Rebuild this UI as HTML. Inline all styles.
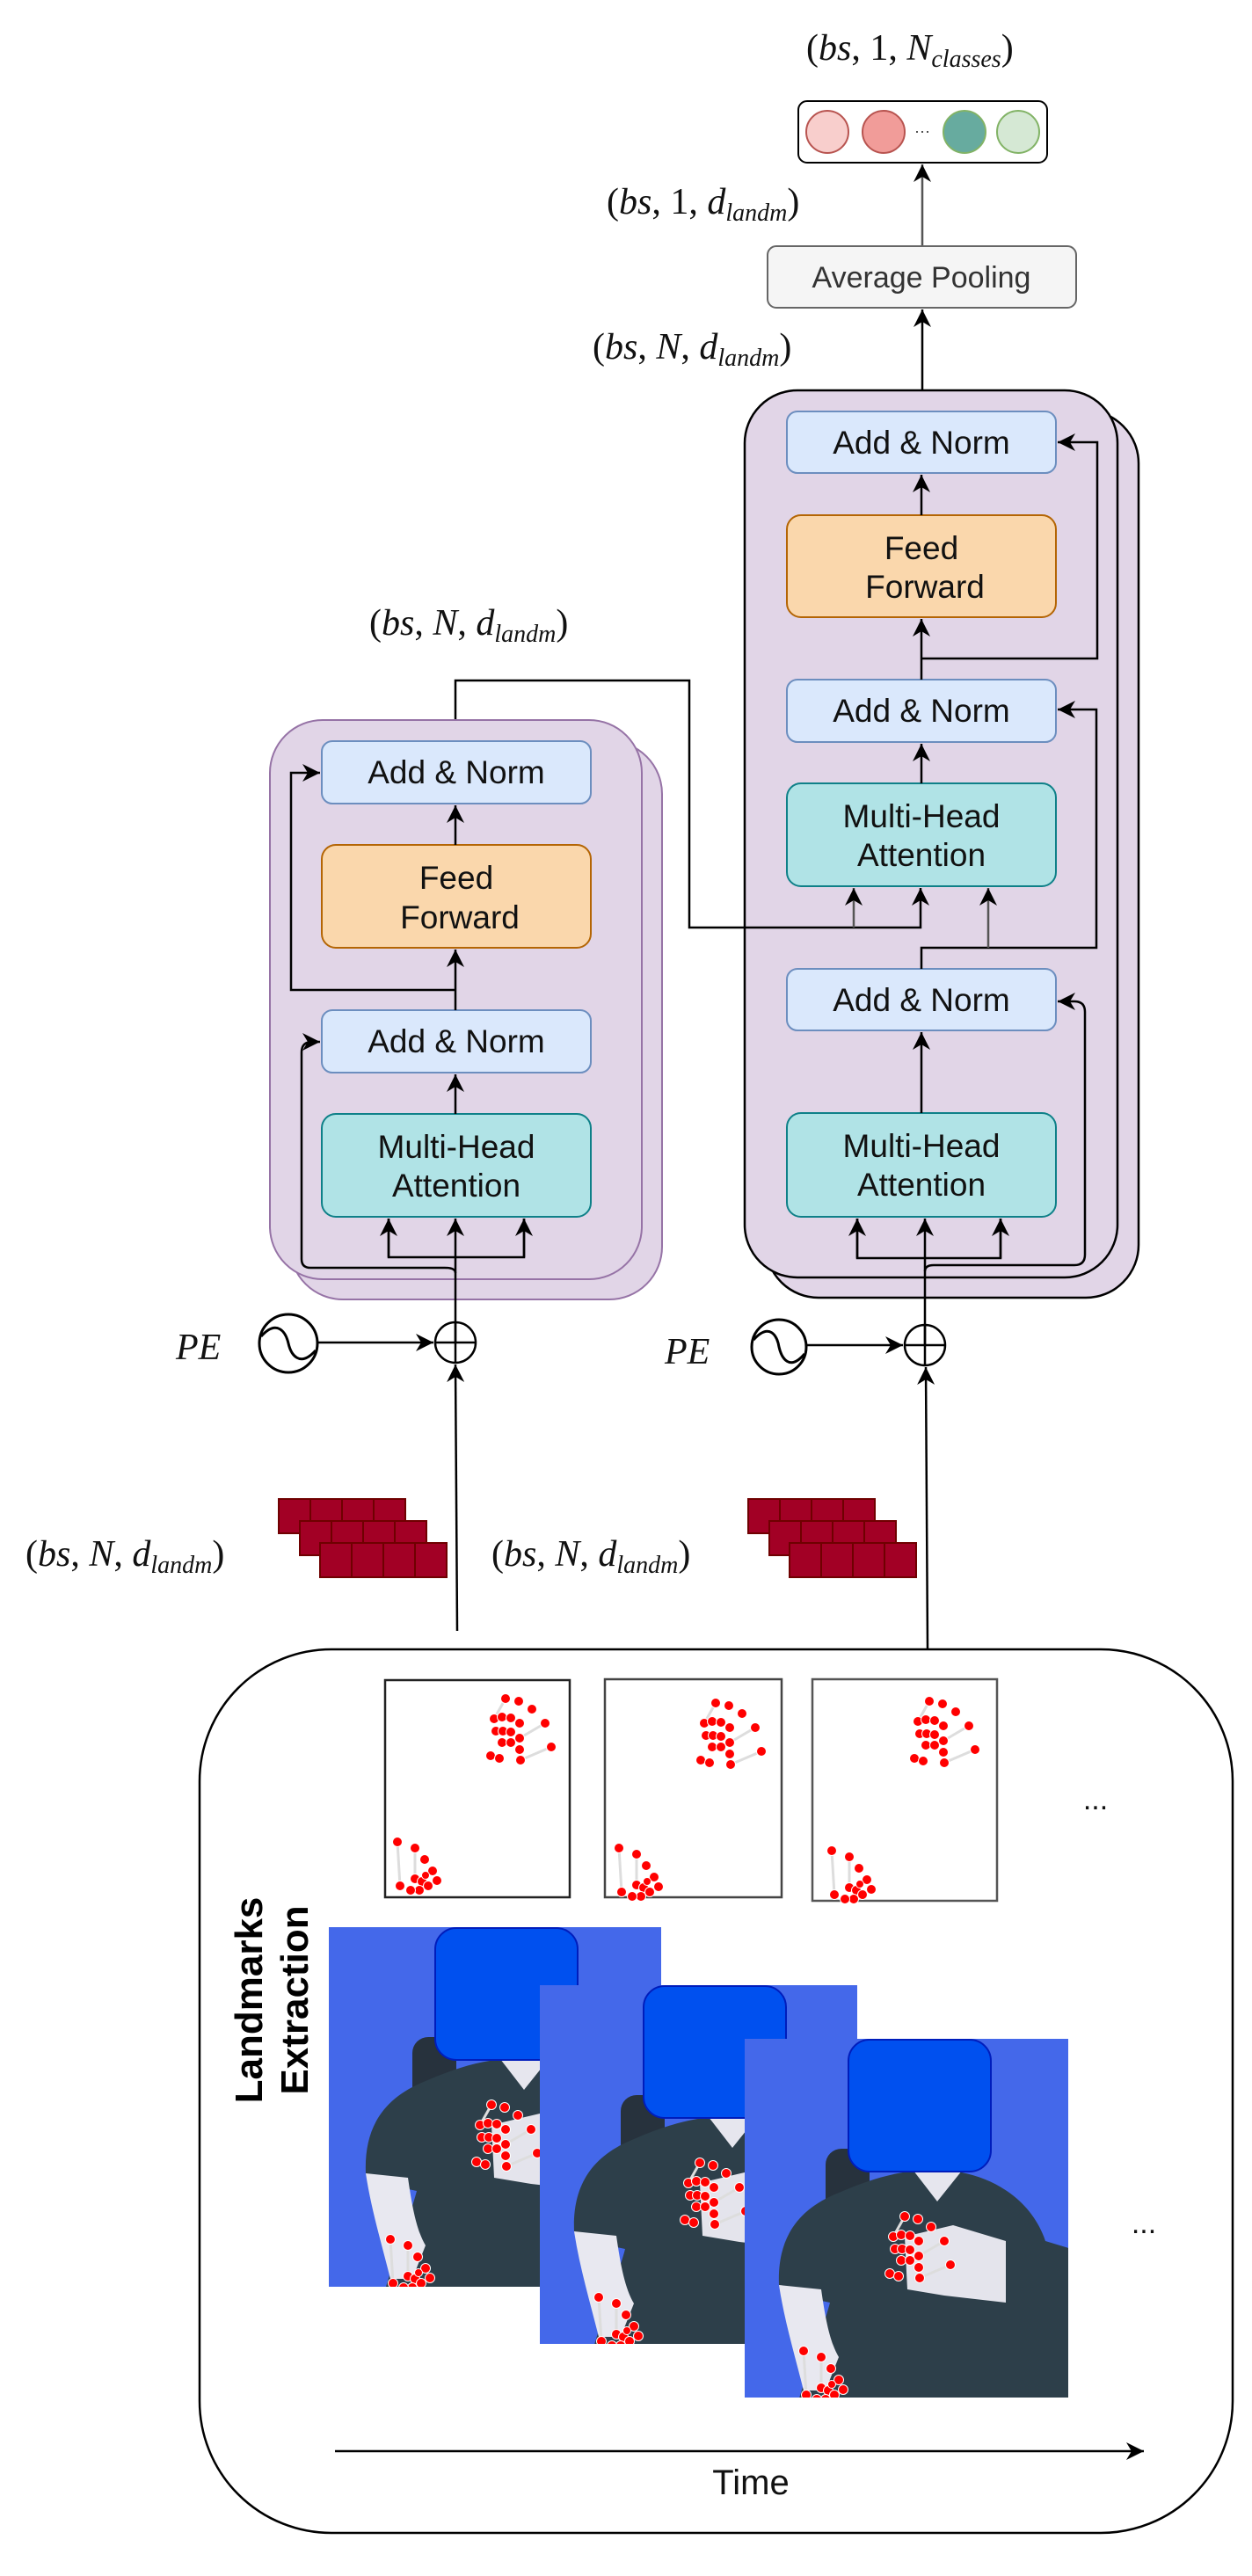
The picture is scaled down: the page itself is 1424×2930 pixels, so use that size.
<!DOCTYPE html>
<html><head><meta charset="utf-8"><style>
html,body{margin:0;padding:0;background:#fff}
svg{display:block}
.blk{font-family:"Liberation Sans",Arial,sans-serif;font-size:37px;fill:#111;text-anchor:middle}
.m{font-family:"Liberation Serif",serif;font-size:42px;fill:#111}
</style></head><body>
<svg width="1424" height="2930" viewBox="0 0 1424 2930" xmlns="http://www.w3.org/2000/svg">
<defs>
<marker id="a" viewBox="0 0 10 10" refX="10" refY="5" markerWidth="20" markerHeight="20" markerUnits="userSpaceOnUse" orient="auto">
<path d="M0,0 L10,5 L0,10 L3,5 z" fill="#000"/></marker>
<g id="cA">
<path d="M69,55 L34,70 M62,28 L33,45 M17,0 L4,23" stroke="#ddd" stroke-width="3" fill="none"/>
<g fill="#f00" stroke="#fff" stroke-width="1">
<circle cx="17" cy="0" r="5.5"/><circle cx="32" cy="3" r="5.5"/><circle cx="47" cy="12" r="5.5"/><circle cx="62" cy="28" r="5.5"/><circle cx="69" cy="55" r="5.5"/>
<circle cx="4" cy="23" r="5.5"/><circle cx="13" cy="21" r="5.5"/><circle cx="23" cy="22" r="5.5"/><circle cx="33" cy="28" r="5.5"/>
<circle cx="6" cy="37" r="5.5"/><circle cx="14" cy="37" r="5.5"/><circle cx="23" cy="38" r="5.5"/><circle cx="33" cy="45" r="5.5"/>
<circle cx="13" cy="50" r="5.5"/><circle cx="23" cy="50" r="5.5"/><circle cx="33" cy="58" r="5.5"/>
<circle cx="0" cy="65" r="5.5"/><circle cx="10" cy="68" r="5.5"/><circle cx="34" cy="70" r="5.5"/></g></g>
<g id="cB">
<path d="M0,0 L3,50 M20,7 L20,42" stroke="#ddd" stroke-width="3" fill="none"/>
<g fill="#f00" stroke="#fff" stroke-width="1">
<circle cx="0" cy="0" r="5.5"/><circle cx="20" cy="7" r="5.5"/><circle cx="31" cy="20" r="5.5"/><circle cx="40" cy="33" r="5.5"/><circle cx="45" cy="44" r="5.5"/>
<circle cx="20" cy="42" r="5.5"/><circle cx="28" cy="45" r="5.5"/><circle cx="35" cy="50" r="5.5"/><circle cx="25" cy="55" r="5.5"/><circle cx="3" cy="50" r="5.5"/><circle cx="15" cy="55" r="5.5"/><circle cx="32" cy="38" r="4.5"/></g></g>
<g id="person">
<rect x="0" y="0" width="378" height="409" fill="#4468ea"/>
<rect x="95" y="125" width="50" height="120" rx="18" fill="#27323d"/>
<path d="M42,280 C40,230 60,195 110,175 C140,162 170,152 200,150 L250,152 C290,160 330,185 345,230 L378,240 L378,409 L65,409 C80,360 95,320 100,300 L62,292 Z" fill="#2d3f4a"/>
<path d="M195,150 L250,150 L222,185 Z" fill="#e6e6ee"/>
<path d="M42,280 L90,285 C95,320 100,345 110,362 L95,400 L70,400 C60,360 48,320 42,280 Z" fill="#e8e8f0"/>
<path d="M185,225 L240,212 L300,230 L300,300 L230,292 L188,285 Z" fill="#e4e4ec"/>
<use href="#cA" x="168" y="202"/>
<use href="#cB" x="70" y="355"/>
<rect x="121" y="1" width="162" height="150" rx="24" fill="#0050ef" stroke="#001dbc" stroke-width="2"/>
</g>
<clipPath id="p1"><rect x="0" y="0" width="378" height="409"/></clipPath>
<clipPath id="p2"><rect x="0" y="0" width="361" height="408"/></clipPath>
<clipPath id="p3"><rect x="0" y="0" width="368" height="408"/></clipPath>
</defs>

<!-- output -->
<text class="m" x="917" y="68">(<tspan font-style="italic">bs</tspan>, 1, <tspan font-style="italic">N</tspan><tspan font-style="italic" font-size="28" dy="8">classes</tspan><tspan dy="-8">)</tspan></text>
<rect x="908" y="115" width="283" height="70" rx="10" fill="#fff" stroke="#000" stroke-width="2"/>
<circle cx="941" cy="150" r="24" fill="#f8cecc" stroke="#b85450" stroke-width="2"/>
<circle cx="1005" cy="150" r="24" fill="#f19c99" stroke="#b85450" stroke-width="2"/>
<text x="1049" y="155" font-family="Liberation Sans,sans-serif" font-size="18" text-anchor="middle" fill="#333">···</text>
<circle cx="1097" cy="150" r="24" fill="#67ab9f" stroke="#82b366" stroke-width="2"/>
<circle cx="1158" cy="150" r="24" fill="#d5e8d4" stroke="#82b366" stroke-width="2"/>
<line x1="1049" y1="280" x2="1049" y2="187" stroke="#555" stroke-width="2.5" marker-end="url(#a)"/>
<text class="m" x="690" y="243">(<tspan font-style="italic">bs</tspan>, 1, <tspan font-style="italic">d</tspan><tspan font-style="italic" font-size="28" dy="8">landm</tspan><tspan dy="-8">)</tspan></text>
<rect x="873" y="280" width="351" height="70" rx="10" fill="#f5f5f5" stroke="#666" stroke-width="2"/>
<text x="1048" y="327" font-family="Liberation Sans,sans-serif" font-size="34" text-anchor="middle" fill="#333">Average Pooling</text>
<text class="m" x="674" y="408">(<tspan font-style="italic">bs</tspan>, <tspan font-style="italic">N</tspan>, <tspan font-style="italic">d</tspan><tspan font-style="italic" font-size="28" dy="8">landm</tspan><tspan dy="-8">)</tspan></text>
<line x1="1049" y1="468" x2="1049" y2="352" stroke="#000" stroke-width="2.5" marker-end="url(#a)"/>

<!-- right encoder -->
<rect x="871" y="467" width="424" height="1009" rx="60" fill="#e1d5e7" stroke="#000" stroke-width="2.5"/>
<rect x="847" y="444" width="424" height="1009" rx="60" fill="#e1d5e7" stroke="#000" stroke-width="2.5"/>
<g stroke-width="2">
<rect x="895" y="468" width="306" height="70" rx="12" fill="#dae8fc" stroke="#6c8ebf"/>
<rect x="895" y="586" width="306" height="116" rx="16" fill="#fad7ac" stroke="#b46504"/>
<rect x="895" y="773" width="306" height="71" rx="12" fill="#dae8fc" stroke="#6c8ebf"/>
<rect x="895" y="891" width="306" height="117" rx="16" fill="#b0e3e6" stroke="#0e8088"/>
<rect x="895" y="1102" width="306" height="70" rx="12" fill="#dae8fc" stroke="#6c8ebf"/>
<rect x="895" y="1266" width="306" height="118" rx="16" fill="#b0e3e6" stroke="#0e8088"/>
</g>
<text class="blk" x="1048" y="516">Add &amp; Norm</text>
<text class="blk" x="1048" y="636">Feed</text><text class="blk" x="1052" y="680">Forward</text>
<text class="blk" x="1048" y="821">Add &amp; Norm</text>
<text class="blk" x="1048" y="941">Multi-Head</text><text class="blk" x="1048" y="985">Attention</text>
<text class="blk" x="1048" y="1150">Add &amp; Norm</text>
<text class="blk" x="1048" y="1316">Multi-Head</text><text class="blk" x="1048" y="1360">Attention</text>
<g stroke="#000" stroke-width="2.5" fill="none">
<line x1="1048" y1="586" x2="1048" y2="540" marker-end="url(#a)"/>
<line x1="1048" y1="773" x2="1048" y2="704" marker-end="url(#a)"/>
<polyline points="1048,749 1248,749 1248,503 1203,503" marker-end="url(#a)"/>
<line x1="1048" y1="891" x2="1048" y2="846" marker-end="url(#a)"/>
<polyline points="1048,1102 1048,1078 1247,1078 1247,807 1203,807" marker-end="url(#a)"/>
<line x1="1124" y1="1078" x2="1124" y2="1010" stroke="#555" marker-end="url(#a)"/>
<polyline points="518,843 518,774 784,774 784,1055 1047,1055 1047,1010" marker-end="url(#a)"/>
<line x1="971" y1="1055" x2="971" y2="1010" stroke="#555" marker-end="url(#a)"/>
<line x1="1048" y1="1266" x2="1048" y2="1174" marker-end="url(#a)"/>
<line x1="1052" y1="1530" x2="1052" y2="1386" marker-end="url(#a)"/>
<polyline points="975,1386 975,1431 1138,1431 1138,1386" />
<line x1="975" y1="1431" x2="975" y2="1386" marker-end="url(#a)"/>
<line x1="1138" y1="1431" x2="1138" y2="1386" marker-end="url(#a)"/>
<path d="M1052,1446 Q1052,1439 1062,1439 L1222,1439 Q1234,1439 1234,1427 L1234,1151 Q1234,1139 1222,1139 L1203,1139" marker-end="url(#a)"/>
</g>

<!-- left encoder -->
<rect x="330" y="843" width="423" height="635" rx="60" fill="#e1d5e7" stroke="#9673a6" stroke-width="2"/>
<rect x="307" y="819" width="423" height="636" rx="60" fill="#e1d5e7" stroke="#9673a6" stroke-width="2"/>
<g stroke-width="2">
<rect x="366" y="843" width="306" height="71" rx="12" fill="#dae8fc" stroke="#6c8ebf"/>
<rect x="366" y="961" width="306" height="117" rx="16" fill="#fad7ac" stroke="#b46504"/>
<rect x="366" y="1149" width="306" height="71" rx="12" fill="#dae8fc" stroke="#6c8ebf"/>
<rect x="366" y="1267" width="306" height="117" rx="16" fill="#b0e3e6" stroke="#0e8088"/>
</g>
<text class="blk" x="519" y="891">Add &amp; Norm</text>
<text class="blk" x="519" y="1011">Feed</text><text class="blk" x="523" y="1056">Forward</text>
<text class="blk" x="519" y="1197">Add &amp; Norm</text>
<text class="blk" x="519" y="1317">Multi-Head</text><text class="blk" x="519" y="1361">Attention</text>
<g stroke="#000" stroke-width="2.5" fill="none">
<line x1="518" y1="961" x2="518" y2="916" marker-end="url(#a)"/>
<line x1="518" y1="1149" x2="518" y2="1080" marker-end="url(#a)"/>
<polyline points="518,1126 331,1126 331,879 364,879" marker-end="url(#a)"/>
<line x1="518" y1="1267" x2="518" y2="1222" marker-end="url(#a)"/>
<line x1="518" y1="1527" x2="518" y2="1386" marker-end="url(#a)"/>
<polyline points="442,1386 442,1430 596,1430 596,1386"/>
<line x1="442" y1="1430" x2="442" y2="1386" marker-end="url(#a)"/>
<line x1="596" y1="1430" x2="596" y2="1386" marker-end="url(#a)"/>
<path d="M518,1448 Q518,1442 506,1442 L353,1442 Q343,1442 343,1432 L343,1197 Q343,1185 355,1185 L364,1185" marker-end="url(#a)"/>
</g>
<text class="m" x="420" y="722">(<tspan font-style="italic">bs</tspan>, <tspan font-style="italic">N</tspan>, <tspan font-style="italic">d</tspan><tspan font-style="italic" font-size="28" dy="8">landm</tspan><tspan dy="-8">)</tspan></text>

<!-- PE -->
<g stroke="#000" stroke-width="2.5" fill="none">
<circle cx="328" cy="1528" r="33" stroke-width="3"/>
<path d="M297,1520 C315,1500 325,1515 328,1528 C331,1541 341,1556 359,1536" stroke-width="3"/>
<line x1="362" y1="1527" x2="493" y2="1527" marker-end="url(#a)"/>
<circle cx="518" cy="1527" r="23"/>
<line x1="495" y1="1527" x2="541" y2="1527"/>
<line x1="518" y1="1504" x2="518" y2="1550"/>
<line x1="520" y1="1855" x2="518" y2="1552" marker-end="url(#a)"/>
<circle cx="886" cy="1532" r="31" stroke-width="3"/>
<path d="M857,1524 C875,1504 884,1519 886,1532 C889,1545 898,1560 915,1540" stroke-width="3"/>
<line x1="918" y1="1530" x2="1027" y2="1530" marker-end="url(#a)"/>
<circle cx="1052" cy="1530" r="23"/>
<line x1="1029" y1="1530" x2="1075" y2="1530"/>
<line x1="1052" y1="1507" x2="1052" y2="1553"/>
<line x1="1055" y1="1876" x2="1053" y2="1555" marker-end="url(#a)"/>
</g>
<text class="m" x="200" y="1546" font-size="48" font-style="italic">PE</text>
<text class="m" x="756" y="1551" font-size="48" font-style="italic">PE</text>

<!-- bricks -->
<g fill="#a20025" stroke="#6f0000" stroke-width="2">
<rect x="317" y="1705" width="36" height="39"/><rect x="353" y="1705" width="36" height="39"/><rect x="389" y="1705" width="36" height="39"/><rect x="425" y="1705" width="36" height="39"/>
<rect x="341" y="1730" width="36" height="39"/><rect x="377" y="1730" width="36" height="39"/><rect x="413" y="1730" width="36" height="39"/><rect x="449" y="1730" width="36" height="39"/>
<rect x="364" y="1755" width="36" height="39"/><rect x="400" y="1755" width="36" height="39"/><rect x="436" y="1755" width="36" height="39"/><rect x="472" y="1755" width="36" height="39"/>
<rect x="851" y="1705" width="36" height="39"/><rect x="887" y="1705" width="36" height="39"/><rect x="923" y="1705" width="36" height="39"/><rect x="959" y="1705" width="36" height="39"/>
<rect x="875" y="1730" width="36" height="39"/><rect x="911" y="1730" width="36" height="39"/><rect x="947" y="1730" width="36" height="39"/><rect x="983" y="1730" width="36" height="39"/>
<rect x="898" y="1755" width="36" height="39"/><rect x="934" y="1755" width="36" height="39"/><rect x="970" y="1755" width="36" height="39"/><rect x="1006" y="1755" width="36" height="39"/>
</g>
<text class="m" x="29" y="1781">(<tspan font-style="italic">bs</tspan>, <tspan font-style="italic">N</tspan>, <tspan font-style="italic">d</tspan><tspan font-style="italic" font-size="28" dy="8">landm</tspan><tspan dy="-8">)</tspan></text>
<text class="m" x="559" y="1781">(<tspan font-style="italic">bs</tspan>, <tspan font-style="italic">N</tspan>, <tspan font-style="italic">d</tspan><tspan font-style="italic" font-size="28" dy="8">landm</tspan><tspan dy="-8">)</tspan></text>

<!-- landmarks box -->
<rect x="227" y="1876" width="1175" height="1005" rx="150" fill="#fff" stroke="#000" stroke-width="2.5"/>
<g fill="#fff" stroke="#222" stroke-width="2.5">
<rect x="438" y="1911" width="210" height="247"/>
<rect x="688" y="1910" width="201" height="248" stroke="#444"/>
<rect x="924" y="1910" width="210" height="252" stroke="#555"/>
</g>
<use href="#cA" x="558" y="1932"/><use href="#cB" x="452" y="2095"/>
<use href="#cA" x="797" y="1937"/><use href="#cB" x="704" y="2102"/>
<use href="#cA" x="1040" y="1935"/><use href="#cB" x="946" y="2105"/>
<text x="1246" y="2058" font-family="Liberation Sans,sans-serif" font-size="34" text-anchor="middle" fill="#111">...</text>
<text x="1301" y="2540" font-family="Liberation Sans,sans-serif" font-size="34" text-anchor="middle" fill="#111">...</text>

<g transform="translate(374,2192)" clip-path="url(#p1)"><use href="#person"/></g>
<g transform="translate(614,2258)" clip-path="url(#p2)"><use href="#person" x="-3"/></g>
<g transform="translate(847,2319)" clip-path="url(#p3)"><use href="#person" x="-3"/></g>

<text transform="translate(298,2275) rotate(-90)" font-family="Liberation Sans,sans-serif" font-weight="bold" font-size="44" text-anchor="middle" fill="#000">Landmarks</text>
<text transform="translate(350,2275) rotate(-90)" font-family="Liberation Sans,sans-serif" font-weight="bold" font-size="44" text-anchor="middle" fill="#000">Extraction</text>

<line x1="381" y1="2788" x2="1301" y2="2788" stroke="#000" stroke-width="2.5" marker-end="url(#a)"/>
<text x="854" y="2837" font-family="Liberation Sans,sans-serif" font-size="40" text-anchor="middle" fill="#111">Time</text>
</svg>
</body></html>
